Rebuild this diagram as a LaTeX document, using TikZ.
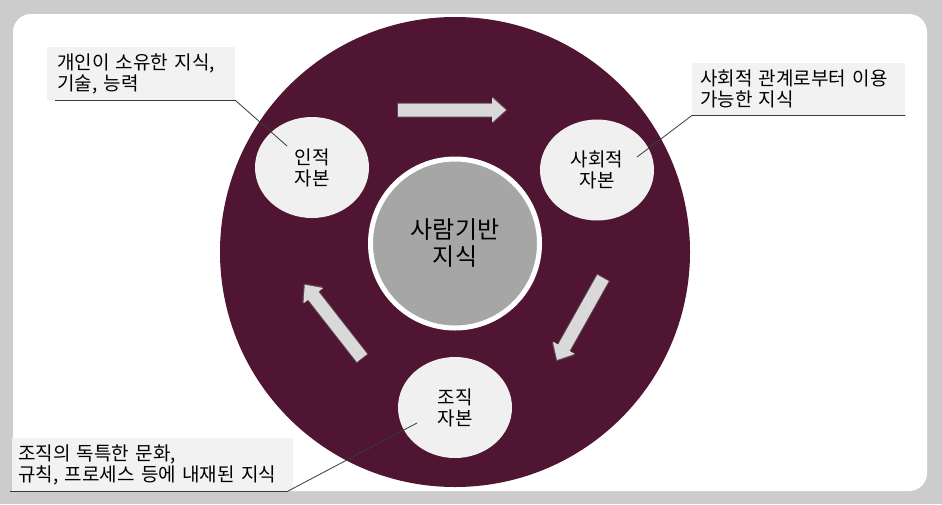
\documentclass[tikz,border=0pt]{standalone}
\usepackage{fontspec}
\setmainfont{Noto Sans CJK KR}
\usepackage{xcolor}
\usepackage{tikz}
\usetikzlibrary{shapes.geometric,positioning,calc}

\definecolor{wine}{HTML}{4F1532}
\definecolor{frame}{HTML}{CCCCCC}
\definecolor{paper}{HTML}{F0F0F0}
\definecolor{notegray}{HTML}{F2F2F2}
\definecolor{coregray}{HTML}{A6A6A6}
\definecolor{arrowgray}{HTML}{D9D9D9}
\definecolor{leadgray}{HTML}{3A3A3A}

\begin{document}
\begin{tikzpicture}[x=1pt, y=-1pt,
    capital/.style={ellipse, fill=paper, minimum width=114pt, minimum height=101pt,
        inner sep=0pt, align=center, font=\fontsize{19}{21}\selectfont},
    core/.style={circle, fill=coregray, draw=white, line width=5pt, minimum size=169pt,
        inner sep=0pt, align=center, font=\fontsize{24}{27}\selectfont},
    note/.style={fill=notegray, inner sep=0pt, align=left, anchor=north west,
        font=\fontsize{19}{21}\selectfont},
    lead/.style={draw=leadgray, line width=0.8pt},
    pics/flowarrow/.style={code={
        \fill[black!55, opacity=0.5] (-1,-7.5) -- ({#1-13},-7.5) -- ({#1-13},-13.5)
            -- ({#1+1.5},0) -- ({#1-13},13.5) -- ({#1-13},7.5) -- (-1,7.5) -- cycle;
        \fill[arrowgray] (0,-6.5) -- ({#1-14},-6.5) -- ({#1-14},-12.5)
            -- (#1,0) -- ({#1-14},12.5) -- ({#1-14},6.5) -- (0,6.5) -- cycle;}}
]
% background and panel
\fill[frame] (0,0) rectangle (942,504);
\fill[white, rounded corners=18pt] (13,14) rectangle (927,491);
\useasboundingbox (0,0) rectangle (942,504);

% wheel
\node[circle, fill=wine, minimum size=470pt, inner sep=0pt] (wheel) at (455,252) {};
\node[core] (people) at (455,243.5) {사람기반\\지식};
\node[capital] (human) at (312,167.5) {인적\\자본};
\node[capital] (social) at (597,170) {사회적\\자본};
\node[capital] (org) at (455,407.5) {조직\\자본};

% flow arrows
\pic at (398,110) {flowarrow=108};
\pic[rotate=240.7] at (603,278) {flowarrow=94};
\pic[rotate=128] at (362,358) {flowarrow=93};

% notes
\node[note, minimum width=188pt, minimum height=53pt, text width=188pt] (note1) at (47,47)
    {\hspace*{10pt}개인이 소유한 지식,\\\hspace*{10pt}기술, 능력};
\node[note, minimum width=213pt, minimum height=52pt, text width=213pt] (note2) at (692,63)
    {\hspace*{8pt}사회적 관계로부터 이용\\\hspace*{8pt}가능한 지식};
\node[note, minimum width=281pt, minimum height=53pt, text width=281pt] (note3) at (12,438)
    {\hspace*{6pt}조직의 독특한 문화,\\\hspace*{6pt}규칙, 프로세스 등에 내재된 지식};

% leaders
\coordinate (humanpt) at (287,146);
\coordinate (socialpt) at (637,157);
\coordinate (orgpt) at (417,423);
\draw[lead] ([xshift=8pt]note1.south west) -- (note1.south east) -- (humanpt);
\draw[lead] (note2.south east) -- (note2.south west) -- (socialpt);
\draw[lead] ([xshift=-2pt]note3.south west) -- ([xshift=-6pt]note3.south east) -- (orgpt);
\end{tikzpicture}
\end{document}
